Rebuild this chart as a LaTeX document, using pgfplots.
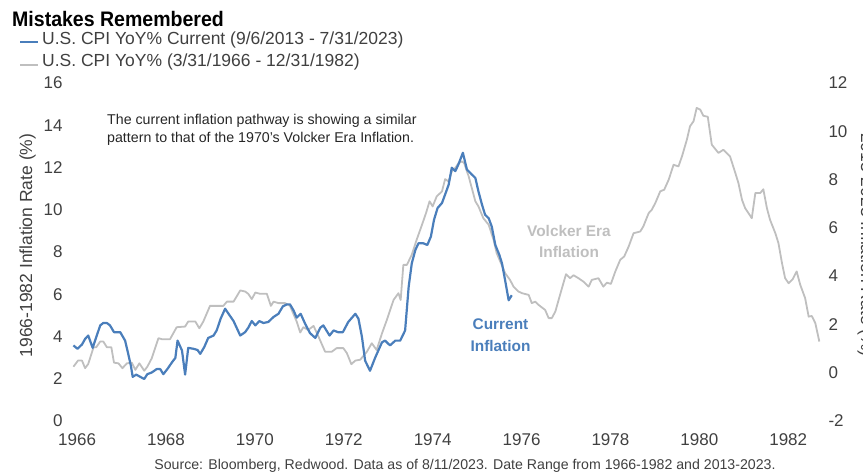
\documentclass[border=0pt]{standalone}
\usepackage{pgfplots}
\pgfplotsset{compat=1.18}
\usepackage{fontspec}
\setmainfont{Liberation Sans}
\definecolor{cpiblue}{RGB}{74,126,187}
\definecolor{cpigray}{RGB}{191,191,191}
\definecolor{txtgray}{RGB}{64,64,64}
\begin{document}
\begin{tikzpicture}
\pgfplotsset{
  common/.style={
    at={(66pt,53pt)}, anchor=south west, scale only axis,
    width=756pt, height=338pt,
    xmin=1965.75, xmax=1982.76,
    axis line style={draw=none}, major tick length=0pt,
    tick label style={font=\fontsize{17}{20}\selectfont, color=txtgray},
    /pgf/number format/1000 sep={},
    /pgf/number format/assume math mode=true,
  }
}
\begin{axis}[common,
  ymin=0, ymax=16, ytick={0,2,...,16},
  xtick={1966,1968,...,1982},
  xticklabel style={yshift=-9pt},
]
\addplot[cpigray, line width=1.8pt, line join=round] coordinates {
(1965.917,2.57) (1966.02,2.86) (1966.11,2.86) (1966.18,2.50) (1966.25,2.70)
(1966.37,3.49) (1966.43,3.49) (1966.52,3.76) (1966.59,3.76) (1966.67,3.49)
(1966.77,3.49) (1966.83,2.76) (1966.93,2.73) (1967.02,2.50) (1967.12,2.73)
(1967.23,2.76) (1967.31,2.42) (1967.40,2.73) (1967.51,2.38) (1967.58,2.57)
(1967.68,2.97) (1967.83,3.92) (1967.91,3.87) (1967.98,3.87) (1968.09,3.87)
(1968.24,4.44) (1968.43,4.47) (1968.50,4.71) (1968.66,4.71) (1968.75,4.39)
(1968.84,4.71) (1968.99,5.45) (1969.22,5.45) (1969.29,5.45) (1969.37,5.65)
(1969.52,5.65) (1969.67,6.18) (1969.78,6.13) (1969.85,6.02) (1969.93,5.77)
(1970.01,6.08) (1970.12,6.02) (1970.27,6.02) (1970.36,5.45) (1970.42,5.65)
(1970.53,5.58) (1970.68,5.58) (1970.79,5.45) (1970.94,4.71) (1971.02,4.19)
(1971.09,4.44) (1971.20,4.31) (1971.32,4.50) (1971.43,4.00) (1971.58,3.28)
(1971.73,3.28) (1971.84,3.45) (1971.99,3.45) (1972.07,3.21) (1972.17,2.69)
(1972.26,2.86) (1972.37,2.90) (1972.52,3.28) (1972.63,3.68) (1972.74,3.36)
(1972.86,4.15) (1972.97,4.79) (1973.12,5.73) (1973.23,6.05) (1973.28,5.73)
(1973.34,7.39) (1973.42,7.39) (1973.53,7.87) (1973.64,8.58) (1973.76,9.29)
(1973.85,9.84) (1973.93,10.40) (1974.00,10.16) (1974.09,10.63) (1974.21,10.87)
(1974.28,11.45) (1974.36,11.34) (1974.43,11.82) (1974.51,11.98) (1974.58,12.20)
(1974.66,12.29) (1974.71,12.20) (1974.81,11.58) (1974.88,11.03) (1974.96,10.40)
(1975.03,10.16) (1975.14,9.60) (1975.26,9.29) (1975.37,8.58) (1975.44,7.95)
(1975.52,7.55) (1975.63,7.00) (1975.74,6.68) (1975.82,6.36) (1975.93,6.13)
(1976.01,6.05) (1976.16,5.97) (1976.23,5.58) (1976.31,5.65) (1976.38,5.50)
(1976.53,5.26) (1976.61,4.87) (1976.68,4.87) (1976.76,5.18) (1976.87,6.00)
(1977.00,6.95) (1977.09,6.76) (1977.17,6.90) (1977.28,6.76) (1977.39,6.60)
(1977.51,6.36) (1977.58,6.68) (1977.73,6.76) (1977.84,6.36) (1977.92,6.55)
(1978.01,6.49) (1978.11,7.08) (1978.22,7.63) (1978.31,7.79) (1978.41,8.26)
(1978.52,8.89) (1978.67,8.97) (1978.74,9.21) (1978.86,9.84) (1978.93,10.00)
(1979.01,10.32) (1979.12,10.87) (1979.21,10.95) (1979.31,11.42) (1979.42,12.13)
(1979.53,12.05) (1979.61,12.53) (1979.72,13.32) (1979.79,13.95) (1979.87,14.19)
(1979.94,14.82) (1980.02,14.74) (1980.09,14.45) (1980.19,14.40) (1980.28,13.08)
(1980.43,12.69) (1980.54,12.84) (1980.69,12.53) (1980.81,11.74) (1980.88,11.26)
(1980.96,10.47) (1981.03,10.08) (1981.18,9.60) (1981.26,10.79) (1981.37,10.79)
(1981.44,10.97) (1981.52,10.08) (1981.59,9.53) (1981.71,8.89) (1981.78,8.42)
(1981.86,7.47) (1981.93,6.76) (1982.01,6.52) (1982.10,6.71) (1982.19,7.08)
(1982.27,6.45) (1982.38,5.82) (1982.46,4.94) (1982.53,4.97) (1982.61,4.63)
(1982.70,3.76)
};
\end{axis}
\begin{axis}[common,
  ymin=-2, ymax=12, ytick={-2,0,...,12},
  axis y line*=right, axis x line=none,
  yticklabel style={xshift=3pt},
]
\addplot[cpiblue, line width=2.2pt, line join=round] coordinates {
(1965.917,1.13) (1966.01,0.99) (1966.11,1.17) (1966.18,1.40) (1966.25,1.54)
(1966.35,1.03) (1966.43,1.47) (1966.52,1.96) (1966.59,2.06) (1966.67,2.06)
(1966.74,1.96) (1966.83,1.68) (1966.97,1.68) (1967.08,1.33) (1967.15,0.78)
(1967.21,0.29) (1967.25,-0.17) (1967.33,-0.08) (1967.42,-0.17) (1967.51,-0.26)
(1967.58,-0.06) (1967.68,0.01) (1967.79,0.15) (1967.87,0.15) (1967.94,-0.06)
(1968.03,0.15) (1968.15,0.47) (1968.21,0.61) (1968.26,1.33) (1968.36,0.92)
(1968.43,-0.08) (1968.50,1.03) (1968.62,0.99) (1968.71,0.94) (1968.77,0.78)
(1968.86,1.06) (1968.95,1.44) (1969.07,1.54) (1969.14,1.75) (1969.23,2.24)
(1969.33,2.65) (1969.43,2.38) (1969.52,2.14) (1969.67,1.54) (1969.78,1.68)
(1969.85,1.86) (1969.93,2.14) (1970.01,1.96) (1970.10,2.14) (1970.19,2.06)
(1970.30,2.10) (1970.42,2.31) (1970.53,2.44) (1970.63,2.75) (1970.72,2.83)
(1970.79,2.83) (1970.87,2.58) (1970.94,2.28) (1971.03,2.44) (1971.13,2.03)
(1971.24,1.64) (1971.36,1.44) (1971.47,1.86) (1971.54,1.96) (1971.68,1.54)
(1971.77,1.75) (1971.87,1.68) (1971.98,1.68) (1972.10,2.10) (1972.26,2.44)
(1972.33,2.24) (1972.41,1.47) (1972.48,0.50) (1972.59,0.08) (1972.71,0.64)
(1972.86,1.26) (1972.93,1.33) (1973.04,1.13) (1973.16,1.33) (1973.27,1.33)
(1973.38,1.75) (1973.46,3.56) (1973.53,4.53) (1973.61,5.08) (1973.68,5.36)
(1973.79,5.36) (1973.88,5.29) (1973.96,5.64) (1974.03,6.33) (1974.11,6.82)
(1974.21,7.03) (1974.28,7.38) (1974.36,7.79) (1974.43,8.49) (1974.51,8.35)
(1974.58,8.63) (1974.68,9.11) (1974.77,8.42) (1974.88,8.21) (1974.96,8.07)
(1975.03,7.51) (1975.11,6.96) (1975.18,6.54) (1975.26,6.40) (1975.33,6.05)
(1975.41,5.29) (1975.50,4.88) (1975.56,4.53) (1975.63,3.83) (1975.71,3.00)
(1975.78,3.21)
};
\end{axis}
% title and legend
\node[anchor=base west, inner sep=0] at (12pt,447.5pt)
  {\scalebox{0.93}[1]{\fontsize{21}{24}\selectfont\bfseries Mistakes Remembered}};
\draw[cpiblue, line width=2.2pt] (20pt,432pt) -- (38pt,432pt);
\node[anchor=base west, inner sep=0, text=txtgray] at (42pt,429pt)
  {\fontsize{17.5}{20}\selectfont U.S. CPI YoY\% Current (9/6/2013 - 7/31/2023)};
\draw[cpigray, line width=2.2pt] (20pt,409pt) -- (38pt,409pt);
\node[anchor=base west, inner sep=0, text=txtgray] at (42pt,407.5pt)
  {\fontsize{17.5}{20}\selectfont U.S. CPI YoY\% (3/31/1966 - 12/31/1982)};
% annotation
\node[anchor=base west, inner sep=0, text=black!85] at (107pt,349pt)
  {\fontsize{14.2}{17}\selectfont The current inflation pathway is showing a similar};
\node[anchor=base west, inner sep=0, text=black!85] at (107pt,331pt)
  {\fontsize{14.2}{17}\selectfont pattern to that of the 1970's Volcker Era Inflation.};
\node[anchor=base, inner sep=0, text=cpigray] at (569pt,237pt)
  {\fontsize{15.4}{18}\selectfont\bfseries Volcker Era};
\node[anchor=base, inner sep=0, text=cpigray] at (569pt,216pt)
  {\fontsize{15.4}{18}\selectfont\bfseries Inflation};
\node[anchor=base, inner sep=0, text=cpiblue] at (500.5pt,144.5pt)
  {\fontsize{15.4}{18}\selectfont\bfseries Current};
\node[anchor=base, inner sep=0, text=cpiblue] at (500.5pt,122.5pt)
  {\fontsize{15.4}{18}\selectfont\bfseries Inflation};
% axis titles
\node[rotate=90, inner sep=0, text=txtgray] at (27.5pt,228.5pt)
  {\fontsize{17.5}{20}\selectfont 1966-1982 Inflation Rate (\%)};
\node[rotate=-90, anchor=base, inner sep=0, text=txtgray] at (861pt,229pt)
  {\fontsize{17.5}{20}\selectfont 2013-2023 Inflation Rate (\%)};
% source
\node[anchor=base, inner sep=0, text=txtgray] at (465pt,4pt)
  {\fontsize{14.15}{17}\selectfont Source: Bloomberg, Redwood. Data as of 8/11/2023. Date Range from 1966-1982 and 2013-2023.};
\pgfresetboundingbox
\path[use as bounding box] (0,0) rectangle (863pt,474pt);
\end{tikzpicture}
\end{document}
